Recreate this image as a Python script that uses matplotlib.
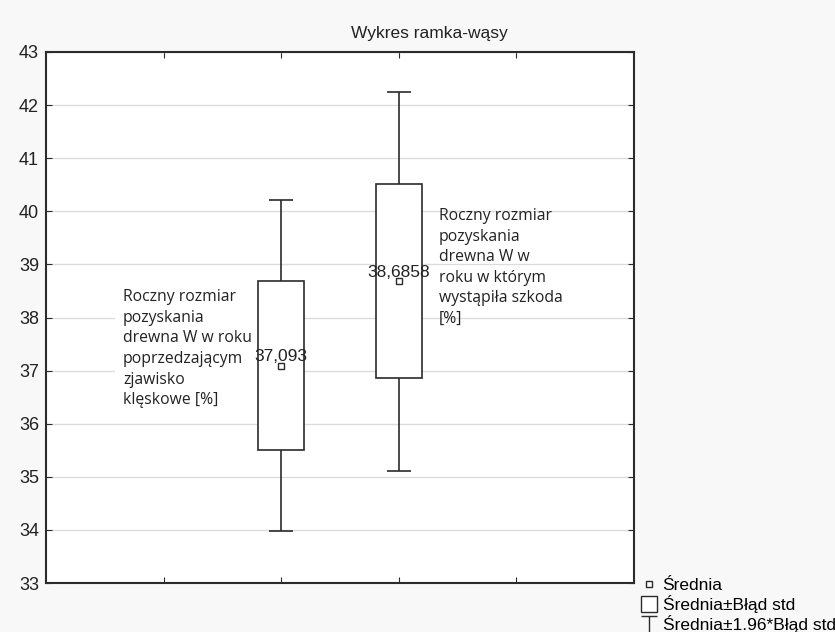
import numpy as np
import matplotlib.pyplot as plt
from matplotlib.lines import Line2D
from matplotlib.path import Path

# data
positions = [2, 3]
means = [37.093, 38.6858]
std_err = [1.59, 1.82]
mean_labels = ["37,093", "38,6858"]
y_ticks = [33, 34, 35, 36, 37, 38, 39, 40, 41, 42, 43]
desc_left = ("Roczny rozmiar\npozyskania\ndrewna W w roku\npoprzedzającym\n"
             "zjawisko\nklęskowe [%]")
desc_right = ("Roczny rozmiar\npozyskania\ndrewna W w\nroku w którym\n"
              "wystąpiła szkoda\n[%]")
title = "Wykres ramka-wąsy"
legend_labels = ["Średnia", "Średnia±Błąd std", "Średnia±1.96*Błąd std"]

plt.rcParams["font.family"] = ["Liberation Sans", "DejaVu Sans"]
edge = "#2b2b2b"

fig = plt.figure(figsize=(8.35, 6.32), dpi=100, facecolor="#f8f8f8")
ax = fig.add_axes([46 / 835, 49 / 632, 588 / 835, 531 / 632])
ax.set_facecolor("white")

means_a = np.array(means)
se_a = np.array(std_err)

# whiskers: mean +/- 1.96 * SE
ax.errorbar(positions, means_a, yerr=1.96 * se_a, fmt="none", ecolor=edge,
            elinewidth=1.2, capsize=8.5, capthick=1.2, zorder=2)
# boxes: mean +/- SE
ax.bar(positions, 2 * se_a, bottom=means_a - se_a, width=0.39,
       color="white", edgecolor=edge, linewidth=1.2, zorder=3)
# mean markers
ax.plot(positions, means_a, linestyle="none", marker="s", markersize=5,
        markerfacecolor="white", markeredgecolor=edge, markeredgewidth=1.0,
        zorder=4)
for x, m, lab in zip(positions, means, mean_labels):
    ax.annotate(lab, xy=(x, m), xytext=(0, 3), textcoords="offset points",
                ha="center", va="baseline", fontsize=12.5, color="#222222",
                zorder=5)

ax.text(0.655, 38.53, desc_left, ha="left", va="top", fontsize=11.3,
        family="Open Sans", color="#222222", linespacing=1.38, zorder=1.5,
        bbox=dict(facecolor="white", edgecolor="none", pad=6))
ax.text(3.34, 40.06, desc_right, ha="left", va="top", fontsize=11.3,
        family="Open Sans", color="#222222", linespacing=1.38, zorder=1.5)

ax.set_xlim(0, 5)
ax.set_ylim(33, 43)
ax.set_xticks([1, 2, 3, 4])
ax.set_xticklabels([])
ax.set_yticks(y_ticks)
ax.tick_params(axis="y", labelsize=13, direction="in", length=4,
               right=True, colors=edge, labelcolor="#222222", pad=5)
ax.tick_params(axis="x", direction="in", length=4, top=True, colors=edge)
ax.grid(axis="y", color="#dcdcdc", linewidth=1.0, zorder=0)
ax.set_axisbelow(True)
for s in ax.spines.values():
    s.set_color(edge)
    s.set_linewidth(1.5)

fig.text(0.514, 0.947, title, ha="center", va="center", fontsize=12.5,
         color="#222222")

# legend with Statistica-like symbols
t_path = Path([(-0.5, 0.5), (0.5, 0.5), (0, 0.5), (0, -0.5)],
              [Path.MOVETO, Path.LINETO, Path.MOVETO, Path.LINETO])
handles = [
    Line2D([], [], linestyle="none", marker="s", markersize=5,
           markerfacecolor="white", markeredgecolor=edge),
    Line2D([], [], linestyle="none", marker="s", markersize=11,
           markerfacecolor="white", markeredgecolor=edge),
    Line2D([], [], linestyle="none", marker=t_path, markersize=12,
           markerfacecolor="none", markeredgecolor=edge),
]
fig.legend(handles, legend_labels, loc="upper left",
           bbox_to_anchor=(640 / 835, 54 / 632), frameon=False,
           fontsize=12.5, handlelength=1.0, handletextpad=0.3,
           labelspacing=0.1, borderpad=0, borderaxespad=0)

fig.savefig("out.png", dpi=100, facecolor=fig.get_facecolor())
